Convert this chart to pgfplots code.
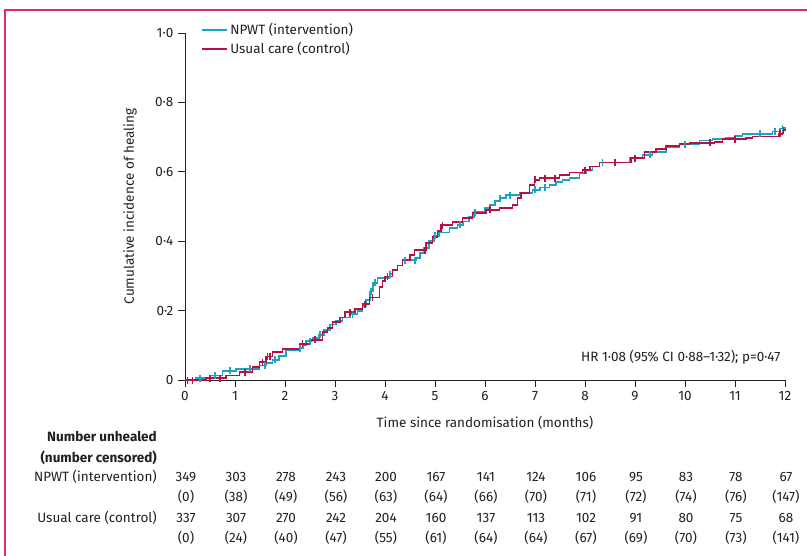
\documentclass[border=0pt]{standalone}
\usepackage{fontspec}
\setmainfont{Fira Sans}
\usepackage{pgfplots}
\pgfplotsset{compat=1.18}
\definecolor{npwt}{HTML}{1AA3C8}
\definecolor{usual}{HTML}{B8103F}
\definecolor{frame}{HTML}{DC2F5E}
\definecolor{ink}{HTML}{231F20}
\newcommand{\fs}{\fontsize{13.5}{15.5}\selectfont}

% NPWT (intervention): cumulative incidence, step starts
\pgfplotstableread{
x y
0 0
0.22 0.005
0.49 0.013
0.75 0.027
1.02 0.032
1.49 0.042
1.62 0.048
1.75 0.058
1.88 0.070
2.02 0.085
2.29 0.092
2.36 0.100
2.42 0.112
2.55 0.120
2.68 0.130
2.78 0.145
2.90 0.160
3.02 0.170
3.15 0.180
3.30 0.190
3.45 0.200
3.55 0.213
3.62 0.230
3.70 0.255
3.76 0.280
3.85 0.295
4.09 0.305
4.15 0.318
4.25 0.330
4.35 0.345
4.62 0.352
4.70 0.365
4.78 0.380
4.88 0.400
4.98 0.415
5.08 0.425
5.29 0.438
5.45 0.447
5.56 0.457
5.68 0.470
5.78 0.484
6.00 0.496
6.09 0.504
6.20 0.515
6.29 0.524
6.42 0.533
6.69 0.539
6.95 0.548
7.10 0.555
7.29 0.563
7.42 0.570
7.55 0.576
7.69 0.582
7.89 0.596
8.02 0.605
8.15 0.615
8.29 0.627
8.89 0.640
9.15 0.649
9.35 0.656
9.62 0.670
9.89 0.680
10.29 0.690
10.55 0.694
10.82 0.698
11.00 0.703
11.15 0.710
11.75 0.716
11.90 0.725
12.0 0.730
}\npwt

% usual care (control)
\pgfplotstableread{
x y
0 0
0.42 0.005
0.82 0.013
1.09 0.022
1.35 0.037
1.49 0.051
1.62 0.068
1.75 0.080
1.95 0.089
2.29 0.104
2.49 0.116
2.75 0.138
2.85 0.150
2.95 0.167
3.10 0.180
3.20 0.195
3.40 0.205
3.55 0.218
3.69 0.238
3.89 0.268
3.95 0.285
4.00 0.298
4.15 0.316
4.25 0.330
4.35 0.345
4.50 0.360
4.59 0.374
4.82 0.394
4.95 0.413
5.05 0.430
5.12 0.446
5.35 0.456
5.55 0.466
5.75 0.481
6.02 0.490
6.29 0.496
6.55 0.504
6.65 0.525
6.72 0.540
6.89 0.562
6.99 0.577
7.09 0.582
7.49 0.591
7.69 0.598
7.95 0.605
8.10 0.615
8.29 0.627
8.92 0.639
9.19 0.656
9.42 0.666
9.62 0.675
9.89 0.681
10.09 0.684
10.59 0.687
10.75 0.694
11.22 0.697
11.35 0.702
11.88 0.710
11.95 0.720
12.0 0.724
}\usual

% censoring ticks
\pgfplotstableread{
x y
0.30 0.005
0.60 0.013
0.90 0.027
1.30 0.032
1.60 0.042
1.80 0.058
2.30 0.092
2.50 0.112
2.70 0.130
3.35 0.190
3.72 0.255
3.80 0.280
4.10 0.305
4.40 0.345
4.60 0.345
5.00 0.415
5.50 0.447
5.80 0.484
6.30 0.524
6.50 0.533
7.00 0.548
7.20 0.555
8.35 0.627
9.30 0.649
10.00 0.680
11.50 0.710
11.80 0.716
11.95 0.725
}\npwtcens
\pgfplotstableread{
x y
0.05 0
0.15 0
0.50 0.005
0.70 0.005
1.20 0.022
1.55 0.051
1.65 0.068
1.70 0.068
2.35 0.104
2.60 0.116
3.30 0.195
3.60 0.218
3.75 0.238
4.05 0.298
4.80 0.374
5.15 0.446
6.10 0.490
7.00 0.577
7.20 0.582
7.40 0.582
8.00 0.605
8.60 0.627
9.00 0.639
10.50 0.684
11.00 0.694
11.90 0.710
11.97 0.720
}\usualcens

\begin{document}
\fs
\begin{tikzpicture}
\path[use as bounding box] (-185pt,-175pt) rectangle (622pt,380pt);
\draw[frame, line width=1.3pt] (-180pt,-176pt) -- (-180pt,370pt) -- (623pt,370pt);
\begin{axis}[
  scale only axis, width=600pt, height=347pt,
  xmin=0, xmax=12, ymin=0, ymax=1,
  axis lines=left, axis line style={-, ink, line width=0.9pt},
  tick align=outside, major tick length=7pt,
  tick style={ink, line width=0.9pt},
  xtick={0,1,...,12},
  ytick={0,0.2,0.4,0.6,0.8,1},
  yticklabels={0,0·2,0·4,0·6,0·8,1·0},
  /pgf/number format/assume math mode=true,
  ticklabel style={font=\fs, text=ink},
  xlabel={Time since randomisation (months)},
  ylabel={Cumulative incidence of healing},
  label style={font=\fs, text=ink},
  xlabel style={at={(axis description cs:0.5,0)}, anchor=center, yshift=-43pt},
  ylabel style={at={(axis description cs:0,0.5)}, anchor=center, yshift=55pt},
  legend style={draw=none, fill=none, at={(axis cs:0.33,1.035)}, anchor=north west,
    font=\fs, text=ink, row sep=2pt, inner sep=0pt,
    legend cell align=left},
  clip=false,
]
\addlegendimage{legend image code/.code={\draw[draw=npwt, line width=1.6pt] (0pt,0pt) -- (25pt,0pt);}}
\addlegendentry{NPWT (intervention)}
\addlegendimage{legend image code/.code={\draw[draw=usual, line width=1.6pt] (0pt,0pt) -- (25pt,0pt);}}
\addlegendentry{Usual care (control)}
\addplot[const plot, npwt, line width=1.8pt, forget plot] table[x=x,y=y]{\npwt};
\addplot[const plot, usual, line width=1.8pt, forget plot] table[x=x,y=y]{\usual};
\addplot[only marks, mark=|, mark size=3.5pt, npwt, line width=1.2pt, forget plot] table[x=x,y=y]{\npwtcens};
\addplot[only marks, mark=|, mark size=3.5pt, usual, line width=1.2pt, forget plot] table[x=x,y=y]{\usualcens};
\end{axis}
\begin{scope}[every node/.style={text=ink}]
\node[anchor=east] at (600pt,23pt) {HR 1·08 (95\% CI 0·88–1·32); p=0·47};
\end{scope}
\begin{scope}[every node/.style={text=ink, text height=1.6ex, text depth=0.45ex, inner sep=0pt}]
\node[anchor=east, font=\bfseries] at (-28pt,-57pt) {Number unhealed};
\node[anchor=east, font=\bfseries] at (-28pt,-78pt) {(number censored)};
\node[anchor=east] at (-28pt,-97pt) {NPWT (intervention)};
\node[anchor=east] at (-28pt,-138pt) {Usual care (control)};
\foreach \n [count=\k from 0] in {349,303,278,243,200,167,141,124,106,95,83,78,67}
  \node at (50*\k pt+1pt,-97pt) {\n};
\foreach \n [count=\k from 0] in {0,38,49,56,63,64,66,70,71,72,74,76,147}
  \node at (50*\k pt+1pt,-117pt) {(\n)};
\foreach \n [count=\k from 0] in {337,307,270,242,204,160,137,113,102,91,80,75,68}
  \node at (50*\k pt+1pt,-138pt) {\n};
\foreach \n [count=\k from 0] in {0,24,40,47,55,61,64,64,67,69,70,73,141}
  \node at (50*\k pt+1pt,-158pt) {(\n)};
\end{scope}
\end{tikzpicture}
\end{document}
